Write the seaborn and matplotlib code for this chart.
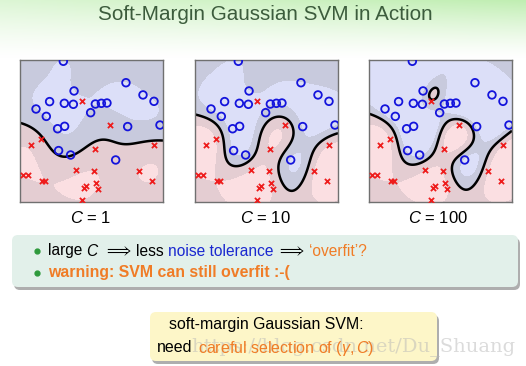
import numpy as np
import matplotlib
matplotlib.use("Agg")
import matplotlib.pyplot as plt
import seaborn as sns
from matplotlib.patches import FancyBboxPatch

# data points (same in all three panels), unit square, y up
circle_x = [0.303, 0.378, 0.207, 0.310, 0.373, 0.112, 0.184, 0.494, 0.527, 0.569, 0.608,
            0.263, 0.312, 0.741, 0.860, 0.937, 0.753, 0.979, 0.270, 0.354, 0.669]
circle_y = [0.991, 0.782, 0.707, 0.695, 0.688, 0.655, 0.603, 0.629, 0.690, 0.695, 0.697,
            0.516, 0.533, 0.840, 0.754, 0.709, 0.531, 0.542, 0.362, 0.331, 0.296]
cross_x = [0.434, 0.629, 0.075, 0.147, 0.522, 0.937, 0.019, 0.054, 0.152, 0.172, 0.389,
           0.515, 0.830, 0.923, 0.448, 0.459, 0.529, 0.543, 0.431]
cross_y = [0.711, 0.545, 0.401, 0.444, 0.371, 0.404, 0.188, 0.188, 0.150, 0.150, 0.223,
           0.216, 0.216, 0.146, 0.101, 0.115, 0.131, 0.089, 0.014]

C_values = [1, 10, 100]
C_labels = ["$C$ = 1", "$C$ = 10", "$C$ = 100"]
GAMMA = 18

TITLE = "Soft-Margin Gaussian SVM in Action"
BLUE = "#1a28d0"
ORANGE = "#f07c26"

W, H = 526, 366


def rbf(A, B, gamma):
    d2 = ((A[:, None, :] - B[None, :, :]) ** 2).sum(-1)
    return np.exp(-gamma * d2)


def fit_svm(X, y, C, gamma, tol=1e-5, max_iter=200000):
    """soft-margin 가우시안 SVM (dual, SMO with maximal violating pair)"""
    K = rbf(X, X, gamma)
    Q = np.outer(y, y) * K
    n = len(y)
    a = np.zeros(n)
    G = -np.ones(n)
    for _ in range(max_iter):
        v = -y * G
        up = ((y > 0) & (a < C)) | ((y < 0) & (a > 0))
        low = ((y > 0) & (a > 0)) | ((y < 0) & (a < C))
        i = np.where(up)[0][np.argmax(v[up])]
        j = np.where(low)[0][np.argmin(v[low])]
        if v[i] - v[j] < tol:
            break
        curv = max(K[i, i] + K[j, j] - 2 * K[i, j], 1e-12)
        t = (v[i] - v[j]) / curv
        t = min(t, C - a[i] if y[i] > 0 else a[i])
        t = min(t, a[j] if y[j] > 0 else C - a[j])
        a[i] += t * y[i]
        a[j] -= t * y[j]
        G += t * (Q[:, i] * y[i] - Q[:, j] * y[j])
    v = -y * G
    free = (a > 1e-8) & (a < C - 1e-8)
    b = v[free].mean() if free.any() else 0.5 * (v[i] + v[j])
    return a, b


def draw_line(ax, x, y, pieces, size, renderer, target_w=None, gap=0.26, z=3):
    """색이 다른 텍스트 조각들을 왼쪽부터 이어서 배치"""
    def place(sz):
        objs, cur = [], x
        for txt, color, weight in pieces:
            t = ax.text(cur, y, txt, color=color, fontsize=sz, fontweight=weight,
                        ha="left", va="center", zorder=z)
            w = t.get_window_extent(renderer).width
            cur += w + gap * sz * 100 / 72
            objs.append(t)
        return objs, cur - gap * sz * 100 / 72 - x
    objs, total = place(size)
    if target_w:
        for t in objs:
            t.remove()
        objs, total = place(size * target_w / total)
    return objs


def fit_text(t, target_w, renderer):
    w = t.get_window_extent(renderer).width
    t.set_fontsize(t.get_fontsize() * target_w / w)


def main():
    plt.rcParams["font.family"] = ["Liberation Sans", "DejaVu Sans"]
    plt.rcParams["mathtext.fontset"] = "custom"
    plt.rcParams["mathtext.rm"] = "Liberation Sans"
    plt.rcParams["mathtext.it"] = "Liberation Sans:italic"
    plt.rcParams["mathtext.bf"] = "Liberation Sans:bold"

    fig = plt.figure(figsize=(W / 100, H / 100), dpi=100)
    renderer = fig.canvas.get_renderer()

    # slide background (pixel coordinates)
    bg = fig.add_axes([0, 0, 1, 1])
    bg.set_xlim(0, W)
    bg.set_ylim(H, 0)
    bg.axis("off")
    yy, xx = np.mgrid[0:H, 0:W]
    k = np.clip(1 - yy / 58.0, 0, 1) ** 1.3 * (0.55 + 0.45 * xx / W)
    green = np.array([192, 238, 178]) / 255.0
    img = 1 - k[..., None] * (1 - green)
    bg.imshow(img, extent=(0, W, H, 0), aspect="auto", zorder=0)

    bg.text(265, 14, TITLE, color="#3c5c3c", fontsize=14, ha="center", va="center")
    fit_text(bg.texts[-1], 336, renderer)

    # green note box
    bg.add_patch(FancyBboxPatch((14, 238), 506, 52, boxstyle="round,pad=0,rounding_size=6",
                                fc="#8c8c8c", ec="none", alpha=0.7, zorder=1))
    bg.add_patch(FancyBboxPatch((12, 235), 506, 52, boxstyle="round,pad=0,rounding_size=6",
                                fc="#e2f0ea", ec="none", zorder=2))
    bg.plot([37, 37], [251, 273], "o", color="#2e9a3c", ms=3.5, zorder=3)
    draw_line(bg, 48, 251, [("large", "black", "normal"),
                            ("$C$", "black", "normal"),
                            (r"$\Longrightarrow$", "black", "normal"),
                            ("less", "black", "normal"),
                            ("noise tolerance", BLUE, "normal"),
                            (r"$\Longrightarrow$", "black", "normal"),
                            ("\u2018overfit\u2019?", ORANGE, "normal")],
              11, renderer, target_w=319)
    draw_line(bg, 48, 273, [("warning: SVM can still overfit :-(", ORANGE, "bold")],
              11, renderer, target_w=242)

    # yellow box
    bg.add_patch(FancyBboxPatch((152, 315), 287, 49, boxstyle="round,pad=0,rounding_size=6",
                                fc="#8c8c8c", ec="none", alpha=0.7, zorder=1))
    bg.add_patch(FancyBboxPatch((150, 312), 287, 49, boxstyle="round,pad=0,rounding_size=6",
                                fc="#fdf6c8", ec="none", zorder=2))
    bg.text(266, 325, "soft-margin Gaussian SVM:", color="black", fontsize=11,
            ha="center", va="center", zorder=5)
    fit_text(bg.texts[-1], 194, renderer)
    draw_line(bg, 157, 348, [("need", "black", "normal"),
                             (r"careful selection of $(\gamma, C)$", ORANGE, "normal")],
              11, renderer, target_w=218, gap=0.34, z=5)

    # watermark (faint, under the box text)
    wm = bg.text(191, 347, "https://blog.csdn.net/Du_Shuang", family="DejaVu Serif",
                 color="#b8b8b8", alpha=0.5, fontsize=13, ha="left", va="center", zorder=4)
    fit_text(wm, 324, renderer)

    # SVM panels
    X = np.column_stack([circle_x + cross_x, circle_y + cross_y])
    y = np.array([1.0] * len(circle_x) + [-1.0] * len(cross_x))
    g = np.linspace(0, 1, 240)
    GX, GY = np.meshgrid(g, g)
    P = np.column_stack([GX.ravel(), GY.ravel()])
    KP = rbf(P, X, GAMMA)

    lefts = [20, 195, 369]
    centers = [91, 265, 438]
    for left, C, lab, cx in zip(lefts, C_values, C_labels, centers):
        ax = fig.add_axes([left / W, 1 - 202 / H, 143 / W, 142 / H])
        a, b = fit_svm(X, y, C, GAMMA)
        f = (KP @ (a * y) + b).reshape(GX.shape)
        ax.contourf(GX, GY, f, levels=[-1e9, -1, 0, 1, 1e9],
                    colors=["#fbdfe2", "#e4cdd2", "#c8cadd", "#dcdff8"])
        ax.contour(GX, GY, f, levels=[0], colors="black", linewidths=1.8)
        sns.scatterplot(x=circle_x, y=circle_y, ax=ax, marker="o", s=30,
                        facecolor="none", edgecolor="#1414dc", linewidth=1.3, zorder=5)
        sns.scatterplot(x=cross_x, y=cross_y, ax=ax, marker="x", s=14,
                        color="#ee1c1c", linewidth=1.3, zorder=5)
        ax.set_xlim(0, 1)
        ax.set_ylim(0, 1)
        ax.set_xticks([])
        ax.set_yticks([])
        for sp in ax.spines.values():
            sp.set_color("#707070")
            sp.set_linewidth(1.0)
        bg.text(cx, 218, lab, fontsize=12, color="black", ha="center", va="center")

    fig.savefig("out.png", dpi=100)
    plt.close(fig)


if __name__ == "__main__":
    main()
